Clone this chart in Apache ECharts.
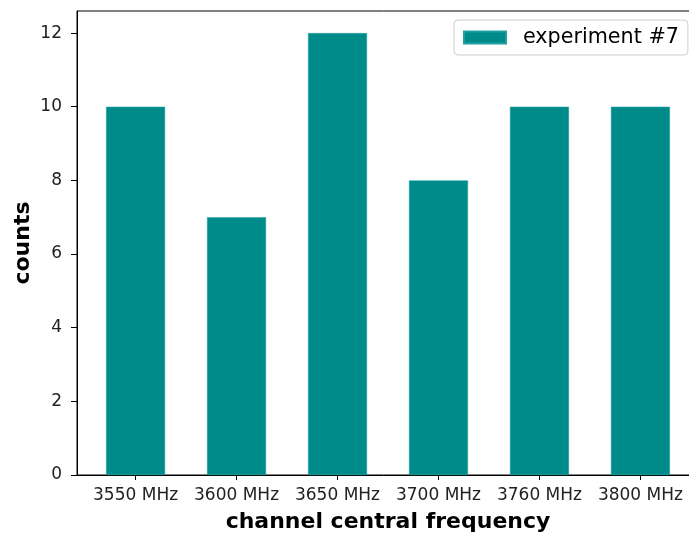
<!DOCTYPE html>
<html>
<head>
<meta charset="utf-8">
<style>
  html, body { margin: 0; padding: 0; background: #fff; }
  #chart { width: 689px; height: 536px; }
</style>
<script src="https://cdn.jsdelivr.net/npm/echarts@6/dist/echarts.min.js"></script>
</head>
<body>
<div id="chart"></div>
<script>
// channel labels and counts
var channels = ['3550 MHz', '3600 MHz', '3650 MHz', '3700 MHz', '3760 MHz', '3800 MHz'];
var counts = [10, 7, 12, 8, 10, 10];
var yTicks = [0, 2, 4, 6, 8, 10, 12];
var seriesName = 'experiment #7';

var positions = channels.map(function (c, i) { return i; });
var barData = counts.map(function (v, i) { return [i, v]; });

var font = 'DejaVu Sans';

var option = {
    animation: false,
    grid: {
        left: 77,
        top: 11,
        width: 622,
        height: 464,
        outerBoundsMode: 'none',
        containLabel: false,
        show: true,
        borderColor: '#000',
        borderWidth: 1,
        backgroundColor: 'transparent'
    },
    legend: {
        data: [seriesName],
        icon: 'rect',
        left: 454,
        top: 20,
        padding: [7, 9, 7, 9],
        itemWidth: 42,
        itemHeight: 12,
        borderColor: '#cccccc',
        borderWidth: 1,
        borderRadius: 4,
        backgroundColor: '#fff',
        textStyle: { fontFamily: font, fontSize: 20.7, color: '#000', padding: [0, 0, 0, 12] }
    },
    xAxis: {
        type: 'value',
        min: -0.58,
        max: 5.58,
        splitLine: { show: false },
        axisLine: { show: true, onZero: false, lineStyle: { color: '#000', width: 1 } },
        axisTick: { show: true, customValues: positions, length: 5, lineStyle: { color: '#000' } },
        axisLabel: {
            customValues: positions,
            formatter: function (v) { return channels[Math.round(v)]; },
            fontFamily: font, fontSize: 17, color: '#222', margin: 12
        },
        name: 'channel central frequency',
        nameLocation: 'middle',
        nameGap: 36,
        nameMoveOverlap: false,
        nameTextStyle: { fontFamily: font, fontSize: 22, fontWeight: 'bold', color: '#000' }
    },
    yAxis: {
        type: 'value',
        min: 0,
        max: 12.6,
        splitLine: { show: false },
        axisLine: { show: true, onZero: false, lineStyle: { color: '#000', width: 1 } },
        axisTick: { show: true, customValues: yTicks, length: 6, lineStyle: { color: '#000' } },
        axisLabel: {
            customValues: yTicks,
            fontFamily: font, fontSize: 17, color: '#222', margin: 15
        },
        name: 'counts',
        nameLocation: 'middle',
        nameGap: 43,
        nameMoveOverlap: false,
        nameTextStyle: { fontFamily: font, fontSize: 22, fontWeight: 'bold', color: '#000' }
    },
    series: [{
        name: seriesName,
        type: 'bar',
        data: barData,
        barWidth: 59,
        itemStyle: { color: '#008b8b', borderColor: '#20a0a0', borderWidth: 0.5 }
    }]
};

var chart = echarts.init(document.getElementById('chart'), null, { renderer: 'canvas' });
chart.setOption(option);
</script>
</body>
</html>
